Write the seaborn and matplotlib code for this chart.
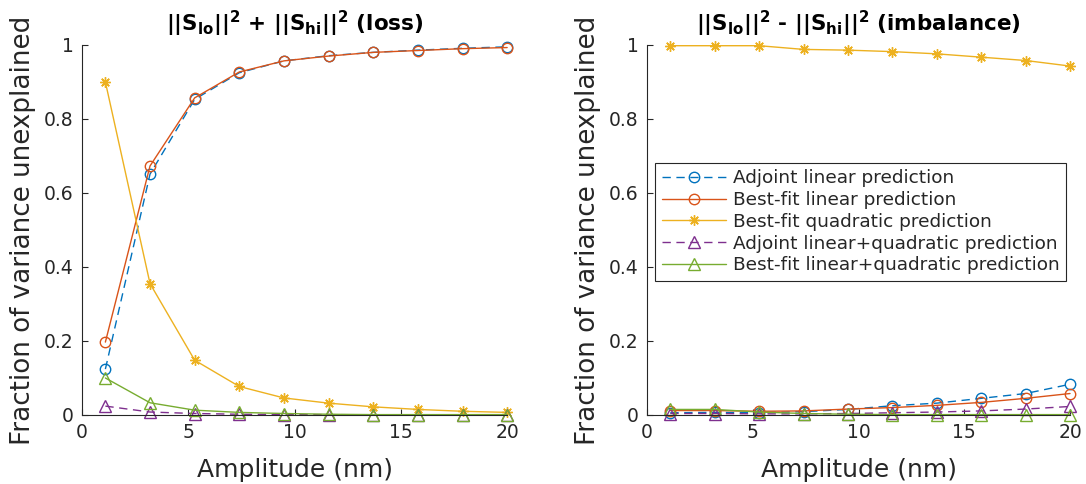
import matplotlib
matplotlib.use("Agg")
import matplotlib.pyplot as plt
import seaborn as sns
import pandas as pd

sns.set_style("white")
plt.rcParams["font.family"] = ["DejaVu Sans"]
plt.rcParams["mathtext.default"] = "bf"

amplitude = [1.1, 3.2, 5.3, 7.4, 9.5, 11.6, 13.7, 15.8, 17.9, 20.0]

series_names = [
    "Adjoint linear prediction",
    "Best-fit linear prediction",
    "Best-fit quadratic prediction",
    "Adjoint linear+quadratic prediction",
    "Best-fit linear+quadratic prediction",
]

# loss panel
loss_adj_lin = [0.124, 0.651, 0.853, 0.925, 0.957, 0.971, 0.980, 0.986, 0.991, 0.995]
loss_fit_lin = [0.197, 0.673, 0.857, 0.927, 0.957, 0.970, 0.980, 0.985, 0.990, 0.993]
loss_fit_quad = [0.900, 0.355, 0.148, 0.077, 0.046, 0.032, 0.022, 0.015, 0.010, 0.007]
loss_adj_linquad = [0.024, 0.008, 0.004, 0.002, 0.001, 0.001, 0.0005, 0.0005, 0.0005, 0.0005]
loss_fit_linquad = [0.100, 0.033, 0.013, 0.007, 0.004, 0.002, 0.001, 0.001, 0.001, 0.001]

# imbalance panel
imb_adj_lin = [0.006, 0.007, 0.006, 0.009, 0.015, 0.025, 0.032, 0.045, 0.058, 0.083]
imb_fit_lin = [0.012, 0.012, 0.010, 0.011, 0.016, 0.020, 0.026, 0.034, 0.045, 0.058]
imb_fit_quad = [0.998, 0.998, 0.998, 0.988, 0.986, 0.982, 0.976, 0.967, 0.958, 0.943]
imb_adj_linquad = [0.004, 0.004, 0.003, 0.003, 0.004, 0.006, 0.008, 0.011, 0.016, 0.023]
imb_fit_linquad = [0.015, 0.015, 0.008, 0.004, 0.002, 0.001, 0.001, 0.001, 0.001, 0.001]

x_ticks = [0, 5, 10, 15, 20]
y_ticks = [0, 0.2, 0.4, 0.6, 0.8, 1]
y_tick_labels = ["0", "0.2", "0.4", "0.6", "0.8", "1"]

titles = [
    r"$||S_{lo}||^2$ + $||S_{hi}||^2$ (loss)",
    r"$||S_{lo}||^2$ - $||S_{hi}||^2$ (imbalance)",
]

colors = ["#0072BD", "#D95319", "#EDB120", "#7E2F8E", "#77AC30"]
markers = ["o", "o", (8, 2, 0), "^", "^"]
dashed = [True, False, False, True, False]
text_gray = "#262626"

fig = plt.figure(figsize=(10.86, 4.84), dpi=100)
ax_left = fig.add_axes([0.0755, 0.1426, 0.3915, 0.7645])
ax_right = fig.add_axes([0.5958, 0.1426, 0.3895, 0.7645])

panels = [
    (ax_left, [loss_adj_lin, loss_fit_lin, loss_fit_quad, loss_adj_linquad, loss_fit_linquad]),
    (ax_right, [imb_adj_lin, imb_fit_lin, imb_fit_quad, imb_adj_linquad, imb_fit_linquad]),
]

for i, (ax, values) in enumerate(panels):
    for name, vals, c, m, d in zip(series_names, values, colors, markers, dashed):
        df = pd.DataFrame({"Amplitude": amplitude, "FVU": vals})
        kw = dict(dashes=(6, 4)) if d else {}
        sns.lineplot(
            data=df, x="Amplitude", y="FVU", ax=ax, color=c, label=name,
            marker=m, markersize=7.5 if m != "^" else 8, markerfacecolor="none",
            markeredgecolor=c, markeredgewidth=1.0, linewidth=1.0,
            legend=False, clip_on=False, **kw,
        )
    ax.set_xlim(0, 20)
    ax.set_ylim(0, 1)
    ax.set_xticks(x_ticks)
    ax.set_xticklabels([str(t) for t in x_ticks])
    ax.set_yticks(y_ticks)
    ax.set_yticklabels(y_tick_labels)
    for side in ["top", "right"]:
        ax.spines[side].set_visible(False)
    for side in ["left", "bottom"]:
        ax.spines[side].set_color(text_gray)
        ax.spines[side].set_linewidth(0.8)
    ax.tick_params(direction="in", length=4, width=0.8, colors=text_gray,
                   labelsize=13.5, pad=6, left=True, bottom=True)
    ax.set_xlabel("Amplitude (nm)", fontsize=18, color=text_gray, labelpad=11)
    ax.set_ylabel("Fraction of variance unexplained", fontsize=18.8, color=text_gray, labelpad=6)
    ax.set_title(titles[i], fontsize=15.5, fontweight="bold", color="black", pad=10)

leg = ax_right.legend(
    *ax_right.get_legend_handles_labels(),
    loc="upper left", bbox_to_anchor=(0.019, 0.681), borderaxespad=0,
    fontsize=13.3, handlelength=3.5, handletextpad=0.35, labelspacing=0.2,
    frameon=True, fancybox=False, edgecolor=text_gray, framealpha=1,
    borderpad=0.35,
)
leg.get_frame().set_linewidth(0.8)
for t in leg.get_texts():
    t.set_color(text_gray)

fig.savefig("out.png", dpi=100)
